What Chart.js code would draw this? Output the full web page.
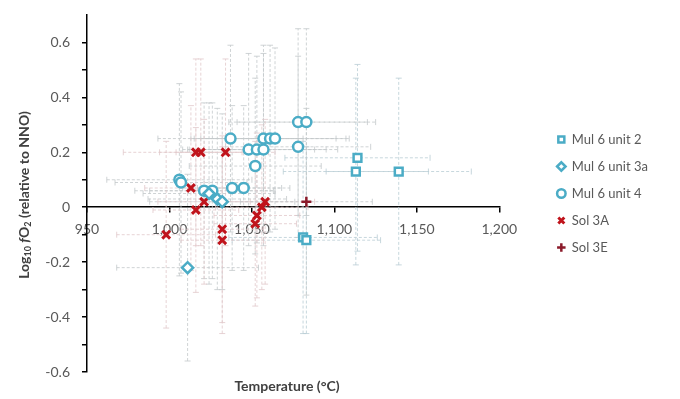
<!DOCTYPE html>
<html>
<head>
<meta charset="utf-8">
<script src="https://cdn.jsdelivr.net/npm/chart.js@4.4.1/dist/chart.umd.min.js"></script>
<style>
    html, body { margin: 0; padding: 0; background: #fff; }
    #wrap { width: 680px; height: 399px; position: relative; }
</style>
</head>
<body>
<div id="wrap"><canvas id="fo2Chart"></canvas></div>
<script>
// series labels
const seriesNames = ["Mul 6 unit 2", "Mul 6 unit 3a", "Mul 6 unit 4", "Sol 3A", "Sol 3E"];

// Mul 6 unit 2 (squares)
const mulU2Temp = [1114, 1113, 1139, 1081, 1083];
const mulU2Fo2 = [0.18, 0.13, 0.13, -0.11, -0.12];
const mulU2TempErr = [44, 44, 44, 45, 45];
const mulU2Fo2Err = [0.34, 0.34, 0.34, 0.35, 0.34];

// Mul 6 unit 3a (diamonds)
const mulU3aTemp = [1011, 1024, 1029, 1032];
const mulU3aFo2 = [-0.22, 0.05, 0.03, 0.02];
const mulU3aTempErr = [43, 40, 42, 44];
const mulU3aFo2Err = [0.34, 0.33, 0.33, 0.32];

// Mul 6 unit 4 (circles)
const mulU4Temp = [1006, 1007, 1021, 1026, 1038, 1045, 1037, 1048, 1053, 1057, 1057, 1061, 1064, 1052, 1078, 1083, 1078];
const mulU4Fo2 = [0.10, 0.09, 0.06, 0.06, 0.07, 0.07, 0.25, 0.21, 0.21, 0.21, 0.25, 0.25, 0.25, 0.15, 0.31, 0.31, 0.22];
const mulU4TempErr = [44, 40, 42, 38, 30, 28, 44, 40, 42, 45, 44, 46, 45, 40, 42, 42, 44];
const mulU4Fo2Err = [0.35, 0.33, 0.32, 0.32, 0.30, 0.30, 0.34, 0.35, 0.34, 0.35, 0.34, 0.34, 0.33, 0.32, 0.34, 0.34, 0.33];

// Sol 3A (x)
const sol3aTemp = [1016, 1019, 1034, 1013, 1016, 1021, 998, 1032, 1032, 1058, 1056, 1053, 1052];
const sol3aFo2 = [0.20, 0.20, 0.20, 0.07, -0.01, 0.02, -0.10, -0.08, -0.12, 0.02, 0.00, -0.03, -0.06];
const sol3aTempErr = [44, 25, 30, 28, 26, 28, 30, 25, 25, 30, 28, 26, 25];
const sol3aFo2Err = [0.34, 0.34, 0.34, 0.30, 0.30, 0.30, 0.34, 0.34, 0.34, 0.30, 0.30, 0.30, 0.30];

// Sol 3E (+)
const sol3eTemp = [1083];
const sol3eFo2 = [0.02];
const sol3eTempErr = [40];
const sol3eFo2Err = [0.34];

// axis ticks
const xTickValues = [950, 1000, 1050, 1100, 1150, 1200];
const yTickLabels = ["-0.6", "-0.4", "-0.2", "0", "0.2", "0.4", "0.6"];

function toPoints(xs, ys, xe, ye) {
    return xs.map((x, i) => ({ x: x, y: ys[i], xErr: xe[i], yErr: ye[i] }));
}

const errorBarsPlugin = {
    id: "errorBars",
    beforeDatasetsDraw(chart) {
        const ctx = chart.ctx;
        const xs = chart.scales.x;
        const ys = chart.scales.y;
        const cap = 3;
        ctx.save();
        chart.data.datasets.forEach(ds => {
            ctx.strokeStyle = ds.errorColor;
            ctx.lineWidth = 1;
            ds.data.forEach(p => {
                const px = xs.getPixelForValue(p.x);
                const py = ys.getPixelForValue(p.y);
                const x0 = xs.getPixelForValue(p.x - p.xErr);
                const x1 = xs.getPixelForValue(p.x + p.xErr);
                const y0 = ys.getPixelForValue(p.y - p.yErr);
                const y1 = ys.getPixelForValue(p.y + p.yErr);
                ctx.setLineDash([3, 2]);
                ctx.beginPath();
                ctx.moveTo(x0, py); ctx.lineTo(x1, py);
                ctx.moveTo(px, y0); ctx.lineTo(px, y1);
                ctx.stroke();
                ctx.setLineDash([]);
                ctx.beginPath();
                ctx.moveTo(x0, py - cap); ctx.lineTo(x0, py + cap);
                ctx.moveTo(x1, py - cap); ctx.lineTo(x1, py + cap);
                ctx.moveTo(px - cap, y0); ctx.lineTo(px + cap, y0);
                ctx.moveTo(px - cap, y1); ctx.lineTo(px + cap, y1);
                ctx.stroke();
            });
        });
        ctx.restore();
    }
};

const axisTitlesPlugin = {
    id: "axisTitles",
    afterDraw(chart) {
        const ctx = chart.ctx;
        ctx.save();
        ctx.fillStyle = "#404040";
        ctx.textBaseline = "middle";

        // x title
        ctx.font = "bold 14px Lato";
        ctx.textAlign = "center";
        ctx.fillText("Temperature (°C)", 287, 386);

        // y title with subscripts, rotated
        const parts = [
            { t: "Log", f: "bold 14px Lato", dy: 0 },
            { t: "10", f: "bold 9px Lato", dy: 4 },
            { t: " ", f: "bold 14px Lato", dy: 0 },
            { t: "f", f: "italic bold 14px Lato", dy: 0 },
            { t: "O", f: "bold 14px Lato", dy: 0 },
            { t: "2", f: "bold 9px Lato", dy: 4 },
            { t: " (relative to NNO)", f: "bold 14px Lato", dy: 0 }
        ];
        let total = 0;
        parts.forEach(p => { ctx.font = p.f; total += ctx.measureText(p.t).width; });
        ctx.translate(24, 195);
        ctx.rotate(-Math.PI / 2);
        ctx.textAlign = "left";
        let cx = -total / 2;
        parts.forEach(p => {
            ctx.font = p.f;
            ctx.fillText(p.t, cx, p.dy);
            cx += ctx.measureText(p.t).width;
        });
        ctx.restore();
    }
};

const blue = "#4bacc6";
const red = "#c0141c";
const grayBar = "rgba(195,200,202,0.8)";

const fo2Chart = new Chart(document.getElementById("fo2Chart"), {
    type: "scatter",
    data: {
        datasets: [
            {
                label: seriesNames[0],
                data: toPoints(mulU2Temp, mulU2Fo2, mulU2TempErr, mulU2Fo2Err),
                pointStyle: "rect",
                pointRadius: 5.5,
                borderColor: blue,
                backgroundColor: "#ffffff",
                pointBorderWidth: 2.5,
                errorColor: "rgba(185,205,212,0.8)"
            },
            {
                label: seriesNames[1],
                data: toPoints(mulU3aTemp, mulU3aFo2, mulU3aTempErr, mulU3aFo2Err),
                pointStyle: "rectRot",
                pointRadius: 5.5,
                borderColor: blue,
                backgroundColor: "#ffffff",
                pointBorderWidth: 2.5,
                errorColor: grayBar
            },
            {
                label: seriesNames[2],
                data: toPoints(mulU4Temp, mulU4Fo2, mulU4TempErr, mulU4Fo2Err),
                pointStyle: "circle",
                pointRadius: 5,
                borderColor: blue,
                backgroundColor: "#ffffff",
                pointBorderWidth: 2.5,
                errorColor: grayBar
            },
            {
                label: seriesNames[3],
                data: toPoints(sol3aTemp, sol3aFo2, sol3aTempErr, sol3aFo2Err),
                pointStyle: "crossRot",
                pointRadius: 5.5,
                borderColor: red,
                backgroundColor: red,
                pointBorderWidth: 3,
                errorColor: "rgba(225,200,202,0.8)"
            },
            {
                label: seriesNames[4],
                data: toPoints(sol3eTemp, sol3eFo2, sol3eTempErr, sol3eFo2Err),
                pointStyle: "cross",
                pointRadius: 5,
                borderColor: "#8b1a2a",
                backgroundColor: "#8b1a2a",
                pointBorderWidth: 2.5,
                errorColor: grayBar
            }
        ]
    },
    options: {
        responsive: true,
        maintainAspectRatio: false,
        animation: false,
        layout: {
            padding: { left: 0, right: 28, top: 15, bottom: 27 }
        },
        plugins: {
            legend: {
                position: "right",
                labels: {
                    usePointStyle: true,
                    boxWidth: 8,
                    boxHeight: 6,
                    padding: 14,
                    color: "#595959",
                    font: { family: "Lato", size: 13 }
                }
            },
            tooltip: { enabled: false }
        },
        scales: {
            x: {
                type: "linear",
                position: { y: 0 },
                min: 950,
                max: 1200,
                afterBuildTicks: scale => {
                    scale.ticks = xTickValues.map(v => ({ value: v }));
                },
                ticks: {
                    color: "#595959",
                    padding: 9,
                    font: { family: "Lato", size: 14 },
                    maxRotation: 0,
                    autoSkip: false,
                    callback: v => v.toLocaleString("en-US")
                },
                grid: {
                    drawOnChartArea: false,
                    tickLength: 5,
                    color: "#000000",
                    lineWidth: 1.5
                },
                border: { color: "#000000", width: 1.5 }
            },
            y: {
                type: "linear",
                min: -0.6,
                max: 0.7,
                afterBuildTicks: scale => {
                    const list = [];
                    for (let i = -6; i <= 7; i++) list.push({ value: i / 10 });
                    scale.ticks = list;
                },
                afterFit: scale => {
                    scale.width = 87;
                    scale.paddingTop = 0;
                    scale.paddingBottom = 0;
                },
                ticks: {
                    color: "#595959",
                    padding: 12,
                    font: { family: "Lato", size: 14 },
                    callback: v => {
                        const k = Math.round(v * 10);
                        if (k % 2 !== 0) return "";
                        return yTickLabels[(k + 6) / 2];
                    }
                },
                grid: {
                    drawOnChartArea: false,
                    tickLength: 5,
                    lineWidth: 1.5,
                    color: ctx => (ctx.tick && Math.round(ctx.tick.value * 10) === 7) ? "rgba(0,0,0,0)" : "#000000"
                },
                border: { color: "#000000", width: 1.5 }
            },
            // empty spacer between plot and legend
            gap: {
                type: "linear",
                axis: "y",
                position: "right",
                display: true,
                grid: { display: false },
                ticks: { display: false },
                border: { display: false },
                afterFit: scale => {
                    scale.width = 44;
                    scale.paddingTop = 0;
                    scale.paddingBottom = 0;
                }
            }
        }
    },
    plugins: [errorBarsPlugin, axisTitlesPlugin]
});
</script>
</body>
</html>
